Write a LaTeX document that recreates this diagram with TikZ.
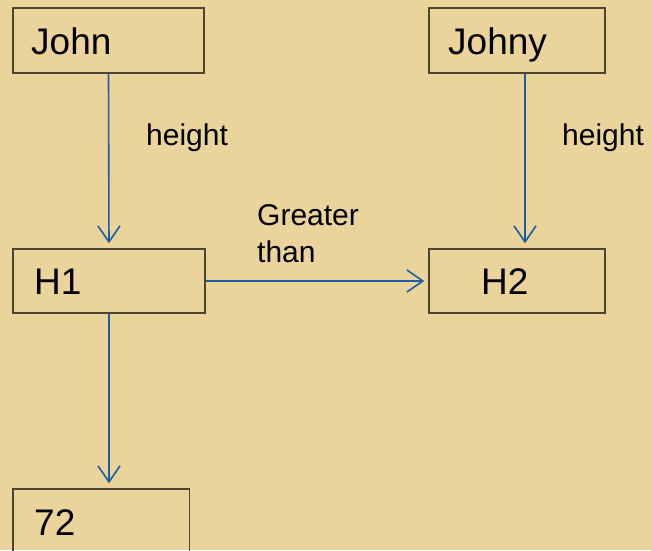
\documentclass[tikz,border=0pt]{standalone}
\usepackage{fontspec}
\setmainfont{Liberation Sans}
\usetikzlibrary{arrows.meta,calc}
\definecolor{papyrus}{RGB}{234,212,156}
\definecolor{boxline}{RGB}{78,68,50}
\definecolor{arrowblue}{RGB}{30,92,164}
\tikzset{
  box/.style={draw=boxline, line width=1.4pt, rectangle, inner sep=0pt},
  boxtext/.style={anchor=base west, inner sep=0pt, font=\fontsize{37}{42}\selectfont},
  lbl/.style={anchor=base west, inner sep=0pt, font=\fontsize{30}{36}\selectfont},
  conn/.style={draw=arrowblue, line width=1.6pt, -{Straight Barb[length=16pt,width=22pt,line width=1.6pt]}}
}
\begin{document}
\begin{tikzpicture}[x=1pt,y=-1pt]
  \fill[papyrus] (0,0) rectangle (651,550);
  \useasboundingbox (0,0) rectangle (651,550);
  \begin{scope}
  \clip (0,0) rectangle (651,550);
  \node[box, minimum width=191pt, minimum height=65pt] (john) at (108.5,40.5) {};
  \node[box, minimum width=176pt, minimum height=65pt] (johny) at (517,40.5) {};
  \node[box, minimum width=192pt, minimum height=64pt] (h1) at (109,281) {};
  \node[box, minimum width=176pt, minimum height=64pt] (h2) at (517,281) {};
  \node[box, minimum width=176.5pt, minimum height=70pt] (n72) at (101.25,524) {};

  \node[boxtext] (johnT) at (31,54) {John};
  \node[boxtext] (johnyT) at (448,54) {Johny};
  \node[boxtext] (h1T) at (34,294) {H1};
  \node[boxtext] (h2T) at (481,294) {H2};
  \node[boxtext] (n72T) at (34,535) {72};

  \node[lbl] (lblA) at (146,145) {height};
  \node[lbl] (lblB) at (562,145) {height};
  \node[lbl] (lblC1) at (257,225.5) {Greater};
  \node[lbl] (lblC2) at (257,262.5) {than};

  \draw[conn, shorten >=5pt] (john.south) -- (h1.north);
  \draw[conn, shorten >=5pt] ($(johny.south)+(8,0)$) -- ($(h2.north)+(8,0)$);
  \draw[conn, shorten >=4pt] (h1.east) -- (h2.west);
  \draw[conn, shorten >=5pt] (h1.south) -- (h1.south |- n72.north);
  \end{scope}
\end{tikzpicture}
\end{document}
